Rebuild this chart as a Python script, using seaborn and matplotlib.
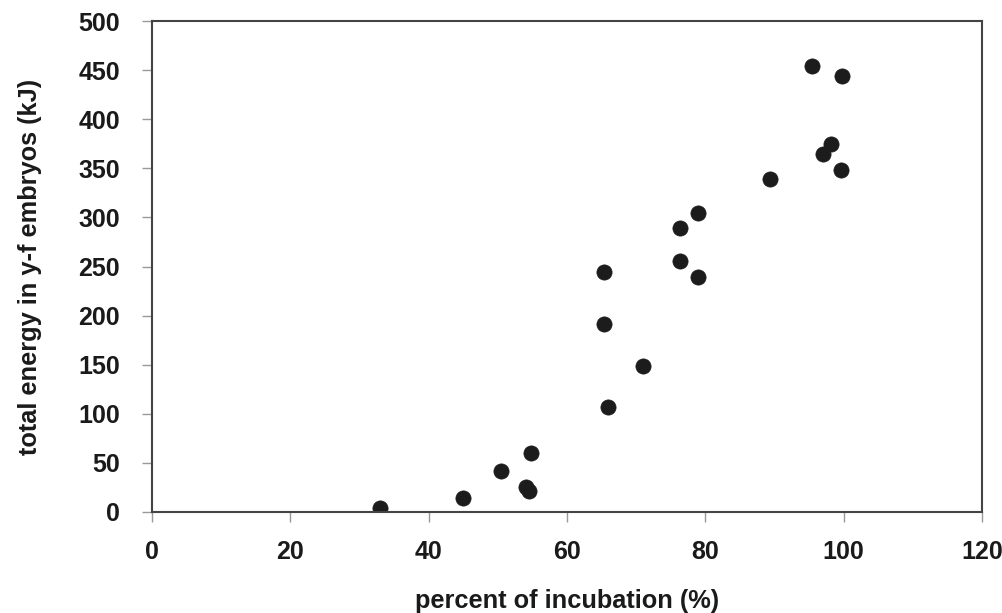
import numpy as np
import pandas as pd
import seaborn as sns
import matplotlib
matplotlib.use("Agg")
import matplotlib.pyplot as plt

# Values
incubation_pct = [33.0, 45.0, 50.4, 54.1, 54.5, 54.8, 65.3, 65.3, 65.9, 71.0,
                  76.3, 76.3, 78.9, 78.9, 89.3, 95.5, 97.0, 98.2, 99.6, 99.8]
energy_kj = [4, 14, 42, 25, 21, 60, 244, 191, 107, 149,
             289, 256, 304, 239, 339, 454, 365, 375, 348, 444]

x_ticks = [0, 20, 40, 60, 80, 100, 120]
y_ticks = [0, 50, 100, 150, 200, 250, 300, 350, 400, 450, 500]

df = pd.DataFrame({"pct": incubation_pct, "energy": energy_kj})

sns.set_style("white")
plt.rcParams['font.family'] = ['Liberation Sans', 'DejaVu Sans']
plt.rcParams['font.weight'] = 'bold'

fig = plt.figure(figsize=(10.03, 6.13), dpi=100)
ax = fig.add_axes([0.1515, 0.1648, 0.979 - 0.1515, 0.9657 - 0.1648])

sns.scatterplot(data=df, x="pct", y="energy", ax=ax, color="#1c1c1c",
                s=120, edgecolor="#1c1c1c", linewidth=0.5, legend=False)

ax.set_xlim(0, 120)
ax.set_ylim(0, 500)
ax.set_xticks(x_ticks)
ax.set_yticks(y_ticks)
ax.tick_params(axis="both", direction="out", length=7, width=1, color="#999999",
               labelsize=18, labelcolor="#1a1a1a", bottom=True, left=True)
ax.tick_params(axis="y", pad=16)
ax.tick_params(axis="x", pad=13)
for lab in ax.get_xticklabels() + ax.get_yticklabels():
    lab.set_fontweight("bold")

for sp in ax.spines.values():
    sp.set_visible(True)
    sp.set_color("#444444")
    sp.set_linewidth(1.5)

ax.set_xlabel("percent of incubation (%)", fontsize=18.3, fontweight="bold",
              color="#1a1a1a", labelpad=18)
ax.set_ylabel("total energy in y-f embryos (kJ)", fontsize=18.3, fontweight="bold",
              color="#1a1a1a", labelpad=26)

fig.savefig("out.png", dpi=100)
